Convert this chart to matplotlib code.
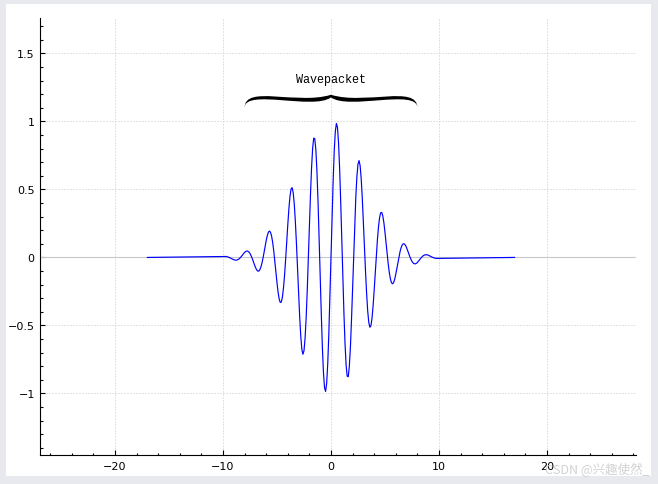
"""Wavepacket with a calligraphic bracket, QCustomPlot-style look."""
import numpy as np
import matplotlib
matplotlib.use("Agg")
import matplotlib.pyplot as plt
from matplotlib.path import Path
from matplotlib.patches import PathPatch, Rectangle
from matplotlib.ticker import MultipleLocator

# curve samples, x = -10 .. 10 in steps of 0.1
wave_x = np.round(np.arange(-100, 101) / 10, 1)
wave_y = [
    0.007, 0.007, 0.007, 0.007, 0.005, 0.002, -0.001, -0.005, -0.009, -0.013,
    -0.017, -0.019, -0.020, -0.019, -0.015, -0.010, -0.002, 0.007, 0.018, 0.028,
    0.037, 0.044, 0.047, 0.046, 0.040, 0.029, 0.013, -0.006, -0.029, -0.051,
    -0.072, -0.089, -0.099, -0.101, -0.092, -0.073, -0.044, -0.007, 0.036, 0.081,
    0.124, 0.160, 0.185, 0.194, 0.185, 0.157, 0.110, 0.047, -0.028, -0.108,
    -0.186, -0.255, -0.305, -0.331, -0.328, -0.292, -0.225, -0.130, -0.014, 0.114,
    0.241, 0.356, 0.447, 0.502, 0.513, 0.477, 0.393, 0.265, 0.104, -0.077,
    -0.263, -0.435, -0.577, -0.674, -0.712, -0.686, -0.595, -0.444, -0.245, -0.013,
    0.229, 0.460, 0.657, 0.801, 0.877, 0.873, 0.790, 0.632, 0.412, 0.148,
    -0.134, -0.410, -0.654, -0.842, -0.956, -0.985, -0.925, -0.780, -0.563, -0.295,
    0.000, 0.295, 0.563, 0.780, 0.925, 0.985, 0.956, 0.842, 0.654, 0.410,
    0.134, -0.148, -0.412, -0.632, -0.790, -0.873, -0.877, -0.801, -0.657, -0.460,
    -0.229, 0.013, 0.245, 0.444, 0.595, 0.686, 0.712, 0.674, 0.577, 0.435,
    0.263, 0.077, -0.104, -0.265, -0.393, -0.477, -0.513, -0.502, -0.447, -0.356,
    -0.241, -0.114, 0.014, 0.130, 0.225, 0.292, 0.328, 0.331, 0.305, 0.255,
    0.186, 0.108, 0.028, -0.047, -0.110, -0.157, -0.185, -0.194, -0.185, -0.160,
    -0.124, -0.081, -0.036, 0.007, 0.044, 0.073, 0.092, 0.101, 0.099, 0.089,
    0.072, 0.051, 0.029, 0.006, -0.013, -0.029, -0.040, -0.046, -0.047, -0.044,
    -0.037, -0.028, -0.018, -0.007, 0.002, 0.010, 0.015, 0.019, 0.020, 0.019,
    0.017, 0.013, 0.009, 0.005, 0.001, -0.002, -0.005, -0.007, -0.007, -0.007,
    -0.007,
]
flat_start, flat_end = -17, 17   # the curve runs flat out to here

bracket_left, bracket_right, bracket_y = -8, 8, 1.1
bracket_label = "Wavepacket"

x_range = (-26.95, 28.25)
y_range = (-1.45, 1.76)
x_ticks = [-20, -10, 0, 10, 20]
x_ticklabels = ["\u221220", "\u221210", "0", "10", "20"]
y_ticks = [-1, -0.5, 0, 0.5, 1, 1.5]
y_ticklabels = ["\u22121", "\u22120.5", "0", "0.5", "1", "1.5"]
watermark = "CSDN @兴趣使然_"

x = np.concatenate([[flat_start], wave_x, [flat_end]])
y = np.concatenate([[0.0], wave_y, [0.0]])

W, H = 658, 485
fig = plt.figure(figsize=(W / 100, H / 100), dpi=100, facecolor="#e8e9ee")
fig.add_artist(Rectangle((6 / W, 1 - 477 / H), 645 / W, 472 / H, transform=fig.transFigure,
                         facecolor="white", edgecolor="none", zorder=0))
ax = fig.add_axes([40 / W, 29.3 / H, 596 / W, 436.7 / H])
ax.set_facecolor("white")

ax.set_xlim(*x_range); ax.set_ylim(*y_range)
for s in ("top", "right"):
    ax.spines[s].set_visible(False)
for s in ("left", "bottom"):
    ax.spines[s].set_linewidth(0.8); ax.spines[s].set_color("black")

ax.set_xticks(x_ticks); ax.set_xticklabels(x_ticklabels)
ax.set_yticks(y_ticks); ax.set_yticklabels(y_ticklabels)
ax.xaxis.set_minor_locator(MultipleLocator(2))
ax.yaxis.set_minor_locator(MultipleLocator(0.1))
ax.tick_params(which="major", direction="in", length=3.8, width=0.8, labelsize=8, colors="black")
ax.tick_params(axis="x", which="major", pad=4.5)
ax.tick_params(axis="y", which="major", pad=3.8)
ax.tick_params(which="minor", direction="in", length=1.8, width=0.8)

ax.grid(True, which="major", color="#c8c8c8", lw=0.72, ls=(0, (1, 2)))
ax.axhline(0, color="#c8c8c8", lw=0.8, zorder=1.5)
ax.set_axisbelow(True)

ax.plot(x, y, color="#0000ff", lw=0.85, zorder=3)

# calligraphic curly bracket, built in pixels then mapped back to data
tr = ax.transData
pl = tr.transform((bracket_left, bracket_y))
pr = tr.transform((bracket_right, bracket_y))
half = (pr - pl) / 2
length = np.array([0.0, -13.0])
c = (pl + pr) / 2 - length
verts = [c + half + length,
         c + half - 0.8 * length, c + 0.4 * half + 0.8 * length, c,
         c - 0.4 * half + 0.8 * length, c - half - 0.8 * length, c - half + length,
         c - half - 0.5 * length, c - 0.2 * half + 1.2 * length, c + 0.2 * length,
         c + 0.2 * half + 1.2 * length, c + half - 0.5 * length, c + half + length]
codes = [Path.MOVETO] + [Path.CURVE4] * 12
ax.add_patch(PathPatch(Path(tr.inverted().transform(verts), codes),
                       facecolor="black", edgecolor="none", zorder=4, clip_on=False))
ax.annotate(bracket_label, xy=((bracket_left + bracket_right) / 2, bracket_y),
            xytext=(0, 23 * 0.72), textcoords="offset points", ha="center", va="bottom",
            family="Liberation Mono", fontsize=8.5, color="black")

fig.text(650 / W, 1 - 470 / H, watermark, ha="right", va="center", fontsize=9,
         color="#d2d2d2", family=["Noto Sans CJK SC", "DejaVu Sans"])

fig.savefig("out.png", dpi=100, facecolor=fig.get_facecolor())
